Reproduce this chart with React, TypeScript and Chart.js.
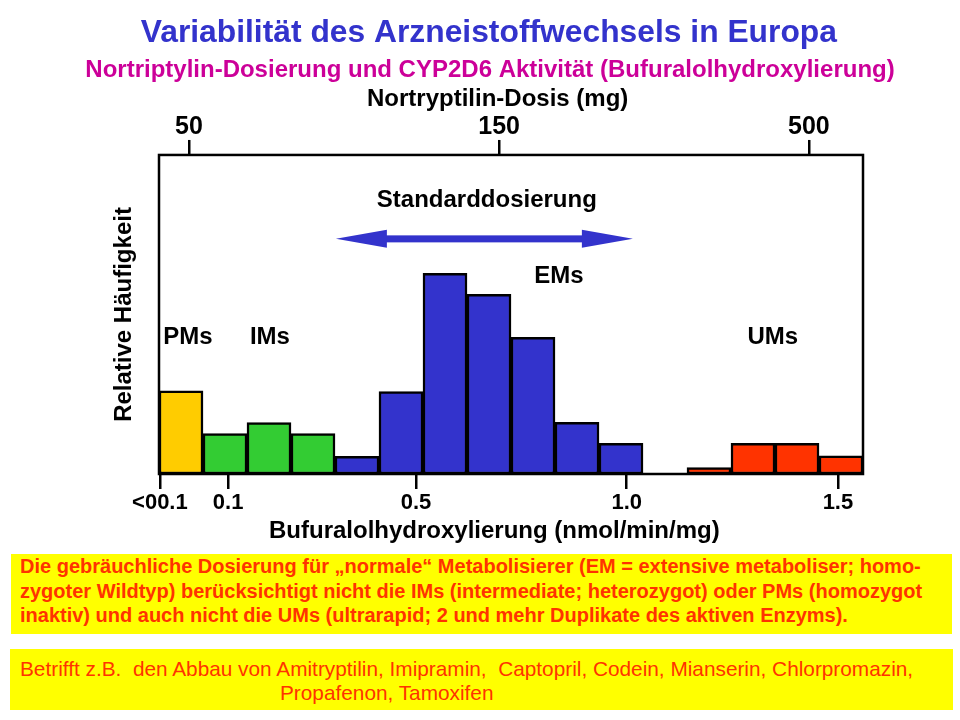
import React, { useEffect, useRef } from "react";
import { Chart, registerables } from "chart.js";

Chart.register(...registerables);

// ---- data ----
const bins = ["PM", "IM1", "IM2", "IM3", "EM1", "EM2", "EM3", "EM4", "EM5", "EM6", "EM7", "gap", "UM1", "UM2", "UM3", "UM4"];
const frequencies: (number | null)[] = [26.1, 12.7, 16.1, 12.7, 5.5, 25.8, 62.9, 56.3, 42.8, 16.2, 9.6, null, 2.0, 9.6, 9.6, 5.7];
const binGroups = ["PM", "IM", "IM", "IM", "EM", "EM", "EM", "EM", "EM", "EM", "EM", "", "UM", "UM", "UM", "UM"];
const groupColors: Record<string, string> = { PM: "#ffcc00", IM: "#33cc33", EM: "#3333cc", UM: "#ff3300", "": "#ffffff" };

// bottom axis (Bufuralolhydroxylierung), positions in bin units
const bottomTickPos = [0.02, 1.57, 5.84, 10.63, 15.43];
const bottomTickLabels = ["<00.1", "0.1", "0.5", "1.0", "1.5"];
// top axis (Nortryptilin-Dosis), positions in bin units
const topTickPos = [0.68, 7.73, 14.77];
const topTickLabels = ["50", "150", "500"];

const groupLabels = [
  { text: "Standarddosierung", x: 7.45, y: 85.9 },
  { text: "EMs", x: 9.09, y: 62.1 },
  { text: "PMs", x: 0.66, y: 42.9 },
  { text: "IMs", x: 2.52, y: 42.9 },
  { text: "UMs", x: 13.95, y: 42.9 },
];
const doseArrow = { from: 4.02, to: 10.77, y: 73.7 };

const FONT = "'Liberation Sans', Arial, sans-serif";

const overlayPlugin = {
  id: "overlay",
  afterDatasetsDraw(chart: any) {
    const { ctx, chartArea, scales } = chart;
    const xs = scales.xb;
    const ys = scales.y;
    ctx.save();
    // frame
    ctx.strokeStyle = "#000";
    ctx.lineWidth = 2.5;
    ctx.strokeRect(chartArea.left, chartArea.top, chartArea.right - chartArea.left, chartArea.bottom - chartArea.top);
    // labels
    ctx.fillStyle = "#000";
    ctx.font = `bold 24px ${FONT}`;
    ctx.textAlign = "center";
    ctx.textBaseline = "middle";
    for (const l of groupLabels) {
      ctx.fillText(l.text, xs.getPixelForValue(l.x), ys.getPixelForValue(l.y));
    }
    // double arrow
    const x1 = xs.getPixelForValue(doseArrow.from);
    const x2 = xs.getPixelForValue(doseArrow.to);
    const ay = ys.getPixelForValue(doseArrow.y);
    const head = 51;
    const hh = 9;
    ctx.fillStyle = "#3333cc";
    ctx.fillRect(x1 + head - 2, ay - 3.5, x2 - x1 - 2 * head + 4, 7);
    ctx.beginPath();
    ctx.moveTo(x1, ay);
    ctx.lineTo(x1 + head, ay - hh);
    ctx.lineTo(x1 + head, ay + hh);
    ctx.closePath();
    ctx.fill();
    ctx.beginPath();
    ctx.moveTo(x2, ay);
    ctx.lineTo(x2 - head, ay - hh);
    ctx.lineTo(x2 - head, ay + hh);
    ctx.closePath();
    ctx.fill();
    ctx.restore();
  },
};

function HistChart() {
  const ref = useRef<HTMLCanvasElement | null>(null);
  useEffect(() => {
    if (!ref.current) return;
    const tickAxis = (
      pos: number[],
      labels: string[],
      position: string,
      title: string,
      titlePad: any,
      tickPad: number,
      tickSize: number
    ) => ({
      type: "linear",
      position,
      min: 0,
      max: bins.length,
      offset: false,
      afterBuildTicks: (axis: any) => {
        axis.ticks = pos.map((v) => ({ value: v }));
      },
      ticks: {
        autoSkip: false,
        maxRotation: 0,
        minRotation: 0,
        padding: tickPad,
        color: "#000",
        font: { family: FONT, size: tickSize, weight: "bold", lineHeight: 1 },
        callback: (_v: any, i: number) => labels[i],
      },
      grid: {
        display: true,
        offset: false,
        drawOnChartArea: false,
        drawTicks: true,
        tickLength: 15,
        color: "#000",
        lineWidth: 2.5,
      },
      border: { display: false },
      title: {
        display: true,
        text: title,
        color: "#000",
        font: { family: FONT, size: 24, weight: "bold" },
        padding: titlePad,
      },
    });
    const chart = new Chart(ref.current, {
      type: "bar",
      data: {
        labels: bins,
        datasets: [
          {
            data: frequencies,
            backgroundColor: binGroups.map((g) => groupColors[g]),
            borderColor: "#000",
            borderWidth: 2.5,
            borderSkipped: false,
            barPercentage: 1,
            categoryPercentage: 1,
          },
        ],
      },
      options: {
        responsive: false,
        animation: false,
        maintainAspectRatio: false,
        layout: { padding: { left: 0, right: 0, top: 0, bottom: 2.2 } },
        plugins: {
          legend: { display: false },
          tooltip: { enabled: false },
          title: {
            display: true,
            text: "  Variabilität des Arzneistoffwechsels in Europa",
            color: "#3333cc",
            font: { family: FONT, size: 31.8, weight: "bold" },
            padding: { top: 14, bottom: 0 },
          },
          subtitle: {
            display: true,
            text: "   Nortriptylin-Dosierung und CYP2D6 Aktivität (Bufuralolhydroxylierung)",
            color: "#cc0099",
            font: { family: FONT, size: 24, weight: "bold" },
            padding: { top: 3.4, bottom: 0.8 },
          },
        },
        scales: {
          x: { type: "category", display: false, offset: true },
          xb: tickAxis(bottomTickPos, bottomTickLabels, "bottom", "Bufuralolhydroxylierung (nmol/min/mg)     ", { top: 0, bottom: 2 }, 3, 22) as any,
          xt: tickAxis(topTickPos, topTickLabels, "top", "Nortryptilin-Dosis (mg)    ", { top: 0, bottom: 0 }, 0.5, 25) as any,
          y: {
            type: "linear",
            min: 0,
            max: 100,
            ticks: { display: false },
            grid: { display: false, drawTicks: false },
            border: { display: false },
            title: {
              display: true,
              text: "Relative Häufigkeit",
              color: "#000",
              font: { family: FONT, size: 24, weight: "bold" },
              padding: { top: 109.6, bottom: 20.6 },
            },
          },
          yr: {
            type: "linear",
            position: "right",
            min: 0,
            max: 1,
            ticks: { display: false },
            grid: { display: false, drawTicks: false },
            border: { display: false },
            title: {
              display: true,
              text: " ",
              font: { family: FONT, size: 10 },
              padding: { top: 0, bottom: 85 },
            },
          },
        },
      },
      plugins: [overlayPlugin],
    } as any);
    return () => chart.destroy();
  }, []);
  return <canvas ref={ref} width={960} height={550} style={{ display: "block", width: 960, height: 550 }} />;
}

export default function App() {
  const boxText: React.CSSProperties = { fontFamily: FONT, color: "#ff3300" };
  return (
    <div style={{ position: "fixed", left: 0, top: 0, width: 960, height: 720, background: "#fff", overflow: "hidden" }}>
      <HistChart />
      <div
        style={{
          ...boxText,
          position: "absolute",
          left: 11,
          top: 554,
          width: 941,
          height: 80,
          background: "#ffff00",
          fontWeight: "bold",
          fontSize: 20,
          lineHeight: "24.5px",
          paddingLeft: 9,
          boxSizing: "border-box",
          whiteSpace: "nowrap",
        }}
      >
        Die gebräuchliche Dosierung für „normale“ Metabolisierer (EM = extensive metaboliser; homo-
        <br />
        zygoter Wildtyp) berücksichtigt nicht die IMs (intermediate; heterozygot) oder PMs (homozygot
        <br />
        inaktiv) und auch nicht die UMs (ultrarapid; 2 und mehr Duplikate des aktiven Enzyms).
      </div>
      <div
        style={{
          ...boxText,
          position: "absolute",
          left: 10,
          top: 649,
          width: 943,
          height: 61,
          background: "#ffff00",
          fontSize: 20.8,
          lineHeight: "24px",
          paddingLeft: 10,
          paddingTop: 8,
          boxSizing: "border-box",
          whiteSpace: "pre",
        }}
      >
        {"Betrifft z.B.  den Abbau von Amitryptilin, Imipramin,  Captopril, Codein, Mianserin, Chlorpromazin,"}
        <br />
        <span style={{ marginLeft: 260 }}>Propafenon, Tamoxifen</span>
      </div>
    </div>
  );
}
